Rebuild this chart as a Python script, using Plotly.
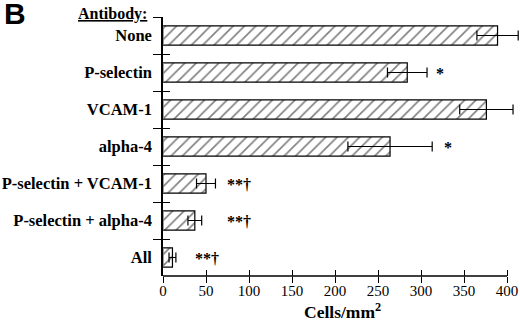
import plotly.graph_objects as go

categories = ["None", "P-selectin", "VCAM-1", "alpha-4",
              "P-selectin + VCAM-1", "P-selectin + alpha-4", "All"]
values = [389, 284, 376, 264, 50, 37, 11]
errors = [24, 23, 31, 49, 11, 8, 4]
sig_labels = ["", "*", "", "*", "**†", "**†", "**†"]
sig_x = [0, 322, 0, 331, 88, 88, 51]
x_ticks = [0, 50, 100, 150, 200, 250, 300, 350, 400]
x_axis_end = 400
x_view_end = 415.1  # a little room so error bars may pass the axis end

SERIF = "Liberation Serif"

fig = go.Figure()
fig.add_trace(go.Bar(
    x=values, y=categories, orientation="h", width=0.52,
    marker=dict(color="white", line=dict(color="black", width=1.2),
                pattern=dict(shape="/", size=8, solidity=0.2,
                             fgcolor="black", bgcolor="white")),
    error_x=dict(type="data", array=errors, color="black",
                 thickness=1.2, width=5),
    showlegend=False, hoverinfo="skip",
))
# invisible trace for the inner half of the crossing ticks
fig.add_trace(go.Bar(x=[0] * len(categories), y=categories, orientation="h",
                     xaxis="x2", yaxis="y2", showlegend=False,
                     marker=dict(color="rgba(0,0,0,0)"), hoverinfo="skip"))

for lab, xv, cat in zip(sig_labels, sig_x, categories):
    if lab:
        fig.add_annotation(x=xv, y=cat, text="<b>" + lab + "</b>",
                           showarrow=False,
                           font=dict(family=SERIF, size=16, color="#000000"),
                           yshift=-1)

# x axis line only up to 400
fig.add_shape(type="line", xref="x", yref="paper", x0=0, x1=x_axis_end,
              y0=0, y1=0, line=dict(color="black", width=1.5), layer="above")

fig.add_annotation(xref="paper", yref="paper", x=-0.45, y=1.012,
                   text="<b>B</b>", showarrow=False, xanchor="left",
                   yanchor="middle",
                   font=dict(family="Liberation Sans", size=30, color="black"))
fig.add_annotation(xref="paper", yref="paper", x=-0.0385, y=1.012,
                   text="<b><u>Antibody:</u></b>", showarrow=False,
                   xanchor="right", yanchor="middle",
                   font=dict(family=SERIF, size=16, color="black"))
fig.add_annotation(xref="paper", yref="paper", x=0.504, y=-0.135,
                   text="<b>Cells/mm<sup>2</sup></b>", showarrow=False,
                   xanchor="center", yanchor="middle",
                   font=dict(family=SERIF, size=17.5, color="black"))

axis_font = dict(family=SERIF, size=15, color="black")
fig.update_layout(
    width=520, height=328, autosize=False,
    margin=dict(l=163, r=0, t=17, b=52, pad=0, autoexpand=False),
    paper_bgcolor="white", plot_bgcolor="white",
    bargap=0.48,
    xaxis=dict(range=[0, x_view_end], tickvals=x_ticks, ticks="outside",
               ticklen=6, tickwidth=1.2, tickcolor="black", showline=False,
               showgrid=False, zeroline=False, tickfont=axis_font,
               automargin=False, ticklabelstandoff=-5,
               tickprefix="<b>", ticksuffix="</b>"),
    xaxis2=dict(overlaying="x", range=[0, x_view_end], tickvals=x_ticks,
                ticks="inside", ticklen=6, tickwidth=1.2, tickcolor="black",
                showticklabels=False, showgrid=False, zeroline=False,
                automargin=False, anchor="y2", side="bottom"),
    yaxis=dict(autorange="reversed", tickson="boundaries", ticks="outside",
               ticklen=8, tickwidth=1.2, tickcolor="black", showline=True,
               linecolor="black", linewidth=1.5, showgrid=False,
               automargin=False,
               tickfont=dict(family=SERIF, size=16.5, color="black"),
               tickprefix="<b>", ticksuffix="</b>", ticklabelstandoff=6),
    yaxis2=dict(overlaying="y", autorange="reversed", tickson="boundaries",
                ticks="inside", ticklen=7, tickwidth=1.2, tickcolor="black",
                showticklabels=False, showgrid=False, anchor="x2",
                automargin=False, side="left"),
)
fig.write_html("out.html", config={"displayModeBar": False},
               post_script="document.body.style.margin='0';"
                           "document.body.style.overflow='hidden';")
